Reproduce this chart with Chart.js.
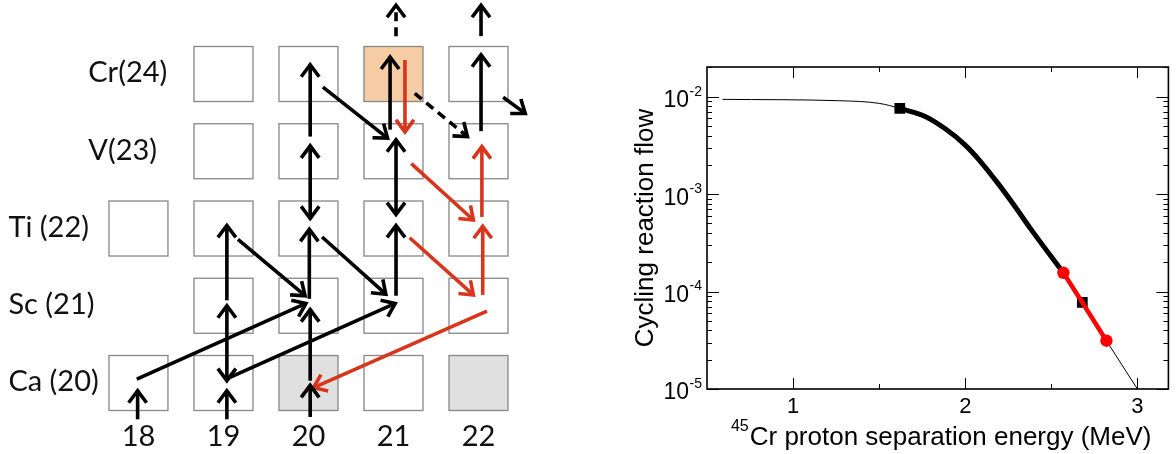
<!DOCTYPE html>
<html>
<head>
<meta charset="utf-8">
<script src="https://cdn.jsdelivr.net/npm/chart.js@4.4.1/dist/chart.umd.min.js"></script>
<style>
  html, body { margin: 0; padding: 0; background: #fff; }
  #wrap { position: relative; width: 1176px; height: 454px; }
  #left { position: absolute; left: 0; top: 0; width: 560px; height: 454px; }
  #right { position: absolute; left: 560px; top: 0; width: 616px; height: 454px; }
</style>
</head>
<body>
<div id="wrap">
  <div id="left"><canvas id="chart-network"></canvas></div>
  <div id="right"><canvas id="chart-flow"></canvas></div>
</div>
<script>
// ---- left panel: reaction network ----
const neutrons = [18, 19, 20, 21, 22]
const elements = ['Ca (20)', 'Sc (21)', 'Ti (22)', 'V(23)', 'Cr(24)']
const protons = [20, 21, 22, 23, 24]

const cellsN = [18, 19, 20, 21, 22, 19, 20, 21, 22, 18, 19, 20, 21, 22, 19, 20, 21, 22, 19, 20, 21, 22]
const cellsZ = [20, 20, 20, 20, 20, 21, 21, 21, 21, 22, 22, 22, 22, 22, 23, 23, 23, 23, 24, 24, 24, 24]
const stableCells = ['20,20', '22,20']
const studiedCells = ['21,24']

// arrows: [N from, Z from, N to, Z to]
const flowArrows = [
  [20.02, 23.19, 20.02, 24.12], [20.17, 23.83, 20.93, 23.17], [20.96, 23.28, 20.96, 24.22],
  [22.03, 23.26, 22.03, 24.25], [22.29, 23.70, 22.55, 23.49], [22.03, 24.49, 22.03, 24.89],
  [20.01, 21.09, 20.01, 21.99], [20.16, 21.89, 20.91, 21.15], [21.03, 21.13, 21.03, 22.04],
  [19.03, 20.05, 21.02, 21.03], [17.98, 20.05, 19.97, 21.03], [19.17, 21.86, 19.96, 21.13],
  [20.02, 20.03, 20.02, 20.95], [20.02, 19.56, 20.02, 19.97], [19.04, 21.07, 19.04, 22.04],
  [17.99, 19.53, 17.99, 19.90], [19.04, 19.53, 19.04, 19.90]
]
const equilibriumArrows = [
  [20.02, 22.13, 20.02, 23.07], [21.03, 22.18, 21.03, 23.15], [19.04, 20.03, 19.04, 21.00]
]
const weakArrows = [
  [21.03, 24.49, 21.03, 24.89], [21.25, 23.75, 21.87, 23.19]
]
const cycleArrows = [
  [21.135, 24.18, 21.135, 23.25], [21.21, 22.84, 21.94, 22.11], [22.04, 22.15, 22.04, 23.06],
  [21.19, 21.88, 21.94, 21.14], [22.05, 21.14, 22.05, 22.03], [22.10, 20.93, 20.06, 19.94]
]

// ---- right panel: cycling flow ----
const energy = [0.59, 1.27, 1.5, 1.62, 1.77, 1.88, 2.0, 2.09, 2.19, 2.29, 2.38, 2.57, 2.68, 2.82, 3.0]
const flow = [0.0094, 0.0091, 0.00855, 0.0076, 0.00624, 0.00474, 0.00319, 0.00215, 0.00129,
  0.000743, 0.00044, 0.000156, 7.74e-5, 3.13e-5, 1.0e-5]
const squareEnergy = [1.62, 2.68]
const squareFlow = [0.0076, 7.74e-5]
const dotEnergy = [2.57, 2.82]
const dotFlow = [0.000156, 3.13e-5]
const yDecades = [-2, -3, -4, -5]
const xMajor = [1, 2, 3]
const xMinor = [1.5, 2.5]

const RED = '#d8361c'

function drawHead(ctx, from, to) {
  const ang = Math.atan2(to.y - from.y, to.x - from.x)
  const len = 15, spread = 0.64
  ctx.beginPath()
  ctx.moveTo(to.x - len * Math.cos(ang - spread), to.y - len * Math.sin(ang - spread))
  ctx.lineTo(to.x, to.y)
  ctx.lineTo(to.x - len * Math.cos(ang + spread), to.y - len * Math.sin(ang + spread))
  ctx.stroke()
}

const arrowHeads = {
  id: 'arrowHeads',
  afterDatasetsDraw(chart) {
    const ctx = chart.ctx
    chart.data.datasets.forEach((ds, i) => {
      const pts = chart.getDatasetMeta(i).data
      ctx.save()
      ctx.strokeStyle = ds.borderColor
      ctx.lineWidth = ds.borderWidth
      ctx.lineJoin = 'miter'
      ctx.setLineDash([])
      drawHead(ctx, pts[0], pts[1])
      if (ds.both) drawHead(ctx, pts[1], pts[0])
      ctx.restore()
    })
  }
}

const nuclideGrid = {
  id: 'nuclideGrid',
  beforeDatasetsDraw(chart) {
    const { ctx, scales: { x, y } } = chart
    ctx.save()
    cellsN.forEach((n, i) => {
      const z = cellsZ[i]
      const key = n + ',' + z
      const x0 = x.getPixelForValue(n - 0.347), x1 = x.getPixelForValue(n + 0.347)
      const y0 = y.getPixelForValue(z + 0.356), y1 = y.getPixelForValue(z - 0.356)
      ctx.fillStyle = studiedCells.includes(key) ? '#f5cca3' : stableCells.includes(key) ? '#e0e0e0' : '#fff'
      ctx.fillRect(x0, y0, x1 - x0, y1 - y0)
      ctx.strokeStyle = '#878787'
      ctx.lineWidth = 1.3
      ctx.strokeRect(x0, y0, x1 - x0, y1 - y0)
    })
    ctx.fillStyle = '#111'
    ctx.font = '29px Lato'
    ctx.textBaseline = 'middle'
    ctx.textAlign = 'left'
    elements.forEach((name, i) => {
      const lx = x.getPixelForValue(protons[i] >= 23 ? 17.41 : 16.47)
      ctx.fillText(name, lx, y.getPixelForValue(protons[i]) - 1)
    })
    ctx.textAlign = 'center'
    neutrons.forEach(n => ctx.fillText(String(n), x.getPixelForValue(n), y.getPixelForValue(19.31)))
    ctx.restore()
  }
}

function arrowSet(list, color, extra) {
  return list.map(a => Object.assign({
    data: [{ x: a[0], y: a[1] }, { x: a[2], y: a[3] }],
    showLine: true,
    borderColor: color,
    borderWidth: 3.6,
    pointRadius: 0,
    borderCapStyle: 'butt'
  }, extra))
}

new Chart(document.getElementById('chart-network'), {
  type: 'scatter',
  data: {
    datasets: [
      ...arrowSet(cycleArrows, RED, {}),
      ...arrowSet(flowArrows, '#000', {}),
      ...arrowSet(equilibriumArrows, '#000', { both: true }),
      ...arrowSet(weakArrows, '#000', { borderDash: [9, 6] })
    ]
  },
  options: {
    responsive: true, maintainAspectRatio: false, animation: false, events: [],
    layout: { padding: 0 },
    plugins: { legend: { display: false }, tooltip: { enabled: false } },
    scales: {
      x: { type: 'linear', display: false, min: 16.371, max: 22.959 },
      y: { type: 'linear', display: false, min: 19.081, max: 24.958 }
    }
  },
  plugins: [nuclideGrid, arrowHeads]
})

const frameTicks = {
  id: 'frameTicks',
  afterDatasetsDraw(chart) {
    const { ctx, chartArea: a, scales: { x, y } } = chart
    ctx.save()
    ctx.strokeStyle = '#000'
    ctx.lineWidth = 1
    ctx.beginPath()
    yDecades.forEach(k => {
      for (let m = 1; m <= 9; m++) {
        const v = m * Math.pow(10, k)
        if (v > y.max || v < y.min) continue
        const py = Math.round(y.getPixelForValue(v)) + 0.5
        const len = m === 1 ? 12 : 5
        ctx.moveTo(a.left, py); ctx.lineTo(a.left + len, py)
        ctx.moveTo(a.right, py); ctx.lineTo(a.right - len, py)
      }
    })
    xMajor.concat(xMinor).forEach(v => {
      const px = Math.round(x.getPixelForValue(v)) + 0.5
      const len = xMajor.includes(v) ? 11 : 5
      ctx.moveTo(px, a.bottom); ctx.lineTo(px, a.bottom - len)
      ctx.moveTo(px, a.top); ctx.lineTo(px, a.top + len)
    })
    ctx.stroke()
    ctx.lineWidth = 1.6
    ctx.strokeRect(a.left, a.top, a.right - a.left, a.bottom - a.top)

    // y tick labels with superscript exponents
    ctx.fillStyle = '#000'
    ctx.textAlign = 'right'
    ctx.textBaseline = 'middle'
    yDecades.forEach(k => {
      const py = y.getPixelForValue(Math.pow(10, k))
      const sup = String(k)
      ctx.font = '14px "Liberation Sans"'
      const supW = ctx.measureText(sup).width
      const right = a.left - 5
      ctx.fillText(sup, right, py - 5)
      ctx.font = '23px "Liberation Sans"'
      ctx.fillText('10', right - supW - 0.5, py + 4)
    })

    // x axis title with superscript mass number
    const sup = '45', main = 'Cr proton separation energy (MeV)'
    ctx.textAlign = 'left'
    ctx.textBaseline = 'alphabetic'
    ctx.font = '16px "Liberation Sans"'
    const sw = ctx.measureText(sup).width
    ctx.font = '26px "Liberation Sans"'
    const mw = ctx.measureText(main).width
    const start = (a.left + a.right) / 2 + 3 - (sw + mw) / 2
    ctx.fillText(main, start + sw + 1, a.bottom + 56)
    ctx.font = '16px "Liberation Sans"'
    ctx.fillText(sup, start, a.bottom + 42)
    ctx.restore()
  }
}

const pairs = (xs, ys) => xs.map((v, i) => ({ x: v, y: ys[i] }))
const curve = pairs(energy, flow)

new Chart(document.getElementById('chart-flow'), {
  type: 'scatter',
  data: {
    datasets: [
      { data: pairs(dotEnergy, dotFlow), pointStyle: 'circle', pointRadius: 6.2, backgroundColor: '#ff0000', borderWidth: 0 },
      { data: curve.slice(11, 14), showLine: true, borderColor: '#ff0000', borderWidth: 4.5, pointRadius: 0 },
      { data: pairs(squareEnergy, squareFlow), pointStyle: 'rect', pointRadius: 7.6, backgroundColor: '#000', borderWidth: 0 },
      { data: curve.slice(3, 12), showLine: true, borderColor: '#000', borderWidth: 5, pointRadius: 0, cubicInterpolationMode: 'monotone' },
      { data: curve, showLine: true, borderColor: '#000', borderWidth: 1, pointRadius: 0, cubicInterpolationMode: 'monotone' }
    ]
  },
  options: {
    responsive: true, maintainAspectRatio: false, animation: false, events: [],
    layout: { padding: { top: 67, right: 4, left: 70, bottom: 0 } },
    plugins: { legend: { display: false }, tooltip: { enabled: false } },
    scales: {
      x: {
        type: 'linear', min: 0.5, max: 3.18,
        grid: { display: false, drawTicks: false },
        border: { display: false },
        ticks: {
          stepSize: 1, includeBounds: false, color: '#000', padding: 5,
          font: { family: 'Liberation Sans', size: 22 },
          callback: v => Number.isInteger(v) ? String(v) : ''
        },
        afterFit: s => { s.height = 65 }
      },
      y: {
        type: 'logarithmic', min: 1e-5, max: 0.0202,
        grid: { display: false, drawTicks: false },
        border: { display: false },
        ticks: { display: false },
        title: {
          display: true, text: 'Cycling reaction flow', color: '#000',
          font: { family: 'Liberation Sans', size: 26 }, padding: 0
        },
        afterFit: s => { s.width = 77 }
      }
    }
  },
  plugins: [frameTicks]
})
</script>
</body>
</html>
